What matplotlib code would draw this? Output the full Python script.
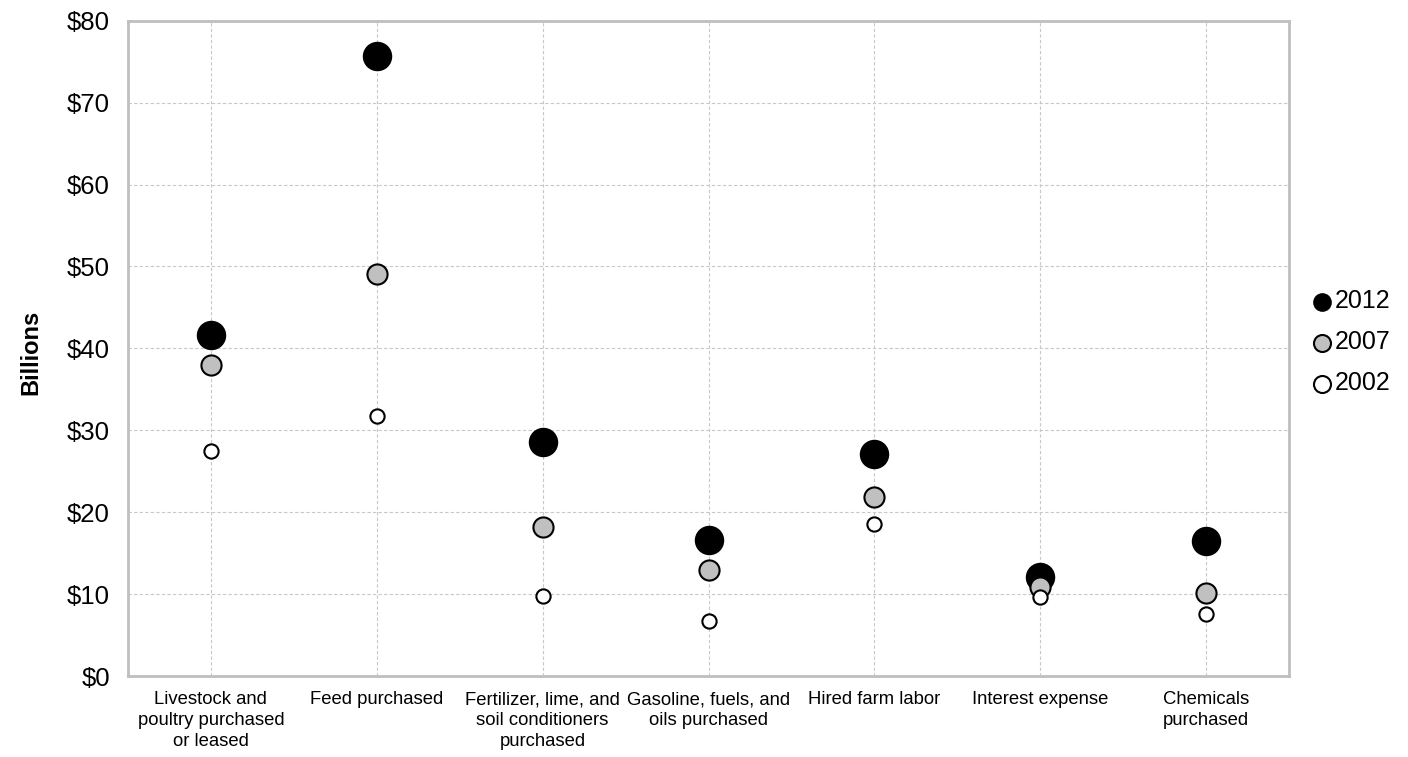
import numpy as np
import matplotlib.pyplot as plt

plt.rcParams['font.family'] = ['Liberation Sans', 'DejaVu Sans']

categories = [
    "Livestock and\npoultry purchased\nor leased",
    "Feed purchased",
    "Fertilizer, lime, and\nsoil conditioners\npurchased",
    "Gasoline, fuels, and\noils purchased",
    "Hired farm labor",
    "Interest expense",
    "Chemicals\npurchased",
]
y2012 = [41.6, 75.7, 28.6, 16.6, 27.1, 12.1, 16.5]
y2007 = [38.0, 49.1, 18.2, 12.9, 21.9, 10.9, 10.1]
y2002 = [27.5, 31.7, 9.8, 6.7, 18.6, 9.6, 7.6]

fig = plt.figure(figsize=(14.08, 7.57), dpi=100)
ax = fig.add_axes([0.0909, 0.107, 0.8246, 0.8656])

x = np.arange(len(categories))
# big ones first so the small circles sit on top
ax.scatter(x, y2012, s=400, color='black', edgecolors='black', linewidths=1.2, zorder=3, label='2012')
ax.scatter(x, y2007, s=210, color='#c0c0c0', edgecolors='black', linewidths=1.5, zorder=4, label='2007')
ax.scatter(x, y2002, s=105, color='white', edgecolors='black', linewidths=1.5, zorder=5, label='2002')

ax.set_xlim(-0.5, len(categories) - 0.5)
ax.set_ylim(0, 80)
ax.set_yticks(np.arange(0, 81, 10))
ax.set_yticklabels([f"${v}" for v in range(0, 81, 10)], fontsize=18.5)
ax.set_xticks(x)
ax.set_xticklabels(categories, fontsize=13.3, linespacing=1.3)
ax.tick_params(axis='both', length=0)
ax.tick_params(axis='x', pad=11)
ax.tick_params(axis='y', pad=13)

ax.grid(True, linestyle=(0, (3, 2)), color='#c8c8c8', linewidth=0.8)
ax.set_axisbelow(True)
for sp in ax.spines.values():
    sp.set_color('#bfbfbf')
    sp.set_linewidth(2)

fig.text(0.022, 0.535, "Billions", rotation=90, fontsize=17, fontweight='bold',
         ha='center', va='center')

leg = ax.legend(loc='center left', bbox_to_anchor=(0.921, 0.548), bbox_transform=fig.transFigure,
                frameon=False, fontsize=18, handletextpad=-0.1, labelspacing=0.68,
                borderaxespad=0, handlelength=1.2)
for h in leg.legend_handles:
    h.set_sizes([150])

fig.savefig('out.png', dpi=100)
